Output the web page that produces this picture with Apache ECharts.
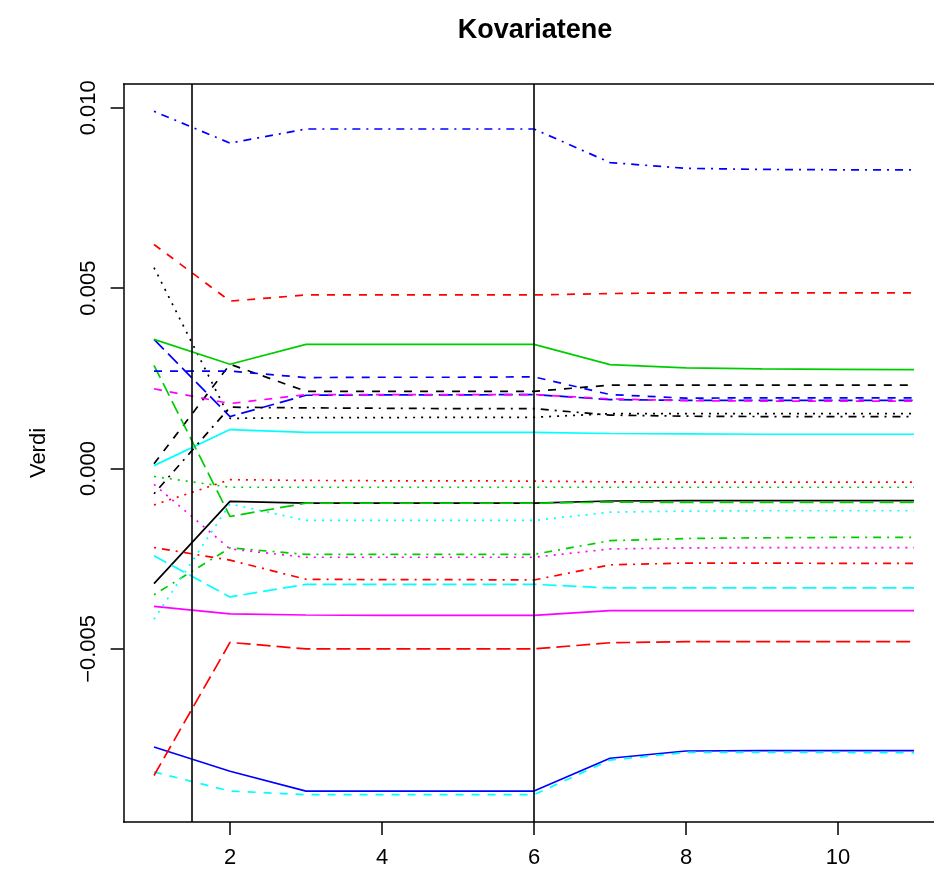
<!DOCTYPE html>
<html>
<head>
<meta charset="utf-8">
<title>Kovariatene</title>
<script src="https://cdn.jsdelivr.net/npm/echarts@6/dist/echarts.min.js"></script>
<style>
  html, body { margin: 0; padding: 0; background: #fff; }
  #chart { width: 934px; height: 877px; }
</style>
</head>
<body>
<div id="chart"></div>
<script>
// x positions (1..11)
const steps = [1, 2, 3, 4, 5, 6, 7, 8, 9, 10, 11]
const xTicks = [2, 4, 6, 8, 10]
const yTicks = [-0.005, 0, 0.005, 0.01]
const breaks = [1.5, 6]

// matplot columns, in column order
const s01 = [-0.00319, -0.00091, -0.00096, -0.00096, -0.00096, -0.00096, -0.0009, -0.00089, -0.00089, -0.00089, -0.00089]
const s02 = [0.00621, 0.00464, 0.00481, 0.00481, 0.00481, 0.00481, 0.00485, 0.00487, 0.00487, 0.00487, 0.00487]
const s03 = [-0.00022, -0.00052, -0.00052, -0.00052, -0.00052, -0.00052, -0.00052, -0.00052, -0.00052, -0.00052, -0.00052]
const s04 = [0.0099, 0.00902, 0.00941, 0.00941, 0.00941, 0.00941, 0.00848, 0.00832, 0.00829, 0.00828, 0.00828]
const s05 = [-0.00242, -0.00356, -0.00321, -0.00321, -0.00321, -0.00321, -0.00331, -0.00331, -0.00331, -0.00331, -0.00331]
const s06 = [-0.00382, -0.00403, -0.00406, -0.00407, -0.00407, -0.00407, -0.00394, -0.00394, -0.00394, -0.00394, -0.00394]
const s07 = [0.00013, 0.00289, 0.00214, 0.00214, 0.00214, 0.00214, 0.00231, 0.00231, 0.00231, 0.00231, 0.00231]
const s08 = [-0.00101, -0.00031, -0.00033, -0.00034, -0.00034, -0.00035, -0.00037, -0.00038, -0.00038, -0.00038, -0.00038]
const s09 = [-0.0035, -0.0022, -0.00238, -0.00238, -0.00238, -0.00238, -0.002, -0.00194, -0.00192, -0.00191, -0.00191]
const s10 = [0.00358, 0.00144, 0.00203, 0.00204, 0.00204, 0.00205, 0.00191, 0.00189, 0.00189, 0.00189, 0.00189]
const s11 = [0.00008, 0.00108, 0.001, 0.001, 0.001, 0.001, 0.00097, 0.00096, 0.00095, 0.00095, 0.00095]
const s12 = [0.00221, 0.0018, 0.00205, 0.00205, 0.00205, 0.00205, 0.00193, 0.00188, 0.00187, 0.00187, 0.00187]
const s13 = [0.00557, 0.00139, 0.00141, 0.00141, 0.00142, 0.00142, 0.00152, 0.00152, 0.00152, 0.00152, 0.00152]
const s14 = [-0.00219, -0.00254, -0.00307, -0.00308, -0.00308, -0.00309, -0.00267, -0.00262, -0.00262, -0.00263, -0.00263]
const s15 = [0.00286, -0.00133, -0.00096, -0.00096, -0.00096, -0.00096, -0.00093, -0.00094, -0.00094, -0.00094, -0.00094]
const s16 = [-0.00772, -0.00839, -0.00894, -0.00894, -0.00894, -0.00894, -0.00803, -0.00783, -0.00782, -0.00782, -0.00782]
const s17 = [-0.00841, -0.00894, -0.00904, -0.00904, -0.00904, -0.00904, -0.00808, -0.00787, -0.00787, -0.00787, -0.00788]
const s18 = [-0.00044, -0.00223, -0.00246, -0.00246, -0.00246, -0.00246, -0.00223, -0.0022, -0.00219, -0.00219, -0.00219]
const s19 = [-0.0007, 0.0017, 0.00168, 0.00167, 0.00166, 0.00166, 0.00148, 0.00145, 0.00144, 0.00144, 0.00144]
const s20 = [-0.00851, -0.00482, -0.005, -0.005, -0.005, -0.005, -0.00483, -0.0048, -0.0048, -0.0048, -0.0048]
const s21 = [0.00358, 0.00289, 0.00344, 0.00344, 0.00344, 0.00344, 0.00288, 0.00279, 0.00276, 0.00275, 0.00274]
const s22 = [0.0027, 0.0027, 0.00252, 0.00253, 0.00253, 0.00254, 0.00205, 0.00195, 0.00196, 0.00196, 0.00196]
const s23 = [-0.00418, -0.00098, -0.00144, -0.00144, -0.00144, -0.00144, -0.00121, -0.00118, -0.00117, -0.00117, -0.00117]

const columns = [s01, s02, s03, s04, s05, s06, s07, s08, s09, s10, s11, s12,
  s13, s14, s15, s16, s17, s18, s19, s20, s21, s22, s23]

// R palette col = 1:6 and lty = 1:5, recycled over columns
const palette = ['#000000', '#FF0000', '#00CD00', '#0000FF', '#00FFFF', '#FF00FF']
const dashes = ['solid', [8, 8], [2, 6], [2, 6, 8, 6], [14, 6]]

const font = "'Liberation Sans', Arial, Helvetica, sans-serif"

// R style 4% padding on both axes
const allY = columns.flat()
const yMin0 = Math.min(...allY)
const yMax0 = Math.max(...allY)
const yPad = (yMax0 - yMin0) * 0.04
const xPad = (steps[steps.length - 1] - steps[0]) * 0.04
const xMin = steps[0] - xPad
const xMax = steps[steps.length - 1] + xPad

const fmtY = (v) => (v < 0 ? '\u2212' : '') + Math.abs(v).toFixed(3)

const boxLine = { show: true, onZero: false, lineStyle: { color: '#000', width: 1.5 } }

const series = columns.map((col, i) => ({
  name: 'V' + (i + 1),
  type: 'line',
  data: steps.map((x, j) => [x, col[j]]),
  showSymbol: false,
  symbol: 'none',
  silent: true,
  lineStyle: {
    color: palette[i % 6],
    width: 1.7,
    type: dashes[i % 5],
    cap: 'butt'
  },
  z: 3
}))

// the two vertical reference lines
series.push({
  type: 'line',
  data: [],
  silent: true,
  markLine: {
    symbol: 'none',
    silent: true,
    label: { show: false },
    lineStyle: { color: '#000', width: 1.6, type: 'solid' },
    data: breaks.map((b) => ({ xAxis: b }))
  },
  z: 4
})

const chart = echarts.init(document.getElementById('chart'), null, { renderer: 'canvas' })
chart.setOption({
  animation: false,
  backgroundColor: '#fff',
  textStyle: { fontFamily: font },
  title: {
    text: 'Kovariatene',
    left: 530,
    top: 12,
    textAlign: 'center',
    textStyle: { fontFamily: font, fontWeight: 'bold', fontSize: 27, color: '#000' }
  },
  grid: {
    left: 123.6,
    top: 84,
    right: -10.4,
    bottom: 55,
    show: false,
    containLabel: false,
    outerBoundsMode: 'none'
  },
  xAxis: [
    {
      type: 'value',
      position: 'bottom',
      min: xMin,
      max: xMax,
      splitLine: { show: false },
      axisLine: boxLine,
      axisTick: {
        show: true,
        length: 13,
        customValues: xTicks,
        lineStyle: { color: '#000', width: 1.5 }
      },
      axisLabel: {
        customValues: xTicks,
        margin: 25,
        fontSize: 22,
        color: '#000',
        fontFamily: font
      }
    },
    {
      // top edge of the box only
      type: 'value',
      position: 'top',
      min: xMin,
      max: xMax,
      splitLine: { show: false },
      axisLine: boxLine,
      axisTick: { show: false },
      axisLabel: { show: false }
    }
  ],
  yAxis: {
    type: 'value',
    min: yMin0 - yPad,
    max: yMax0 + yPad,
    name: 'Verdi',
    nameLocation: 'middle',
    nameRotate: 90,
    nameGap: 74,
    nameTextStyle: { fontSize: 22, color: '#000', fontFamily: font },
    splitLine: { show: false },
    axisLine: boxLine,
    axisTick: {
      show: true,
      length: 13,
      customValues: yTicks,
      lineStyle: { color: '#000', width: 1.5 }
    },
    axisLabel: {
      customValues: yTicks,
      rotate: 90,
      margin: 24,
      fontSize: 22,
      color: '#000',
      fontFamily: font,
      formatter: fmtY
    }
  },
  series: series
})
</script>
</body>
</html>
